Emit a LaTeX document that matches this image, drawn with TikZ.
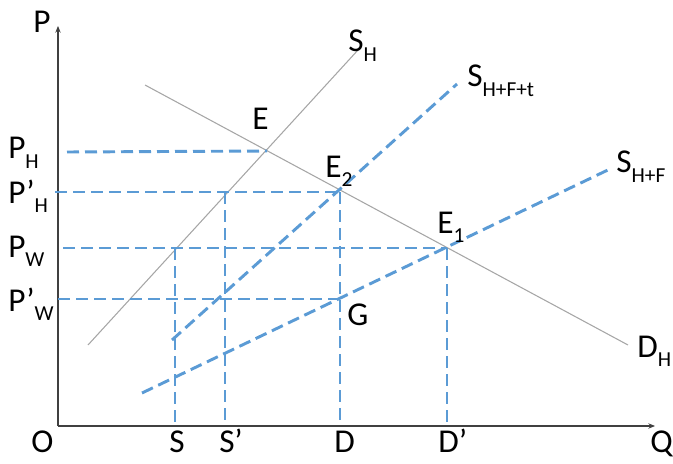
\documentclass[tikz,border=0pt]{standalone}
\usepackage{fontspec}
\setmainfont{Carlito}
\usetikzlibrary{arrows.meta}
\definecolor{dashblue}{HTML}{5B9BD5}
\definecolor{linegray}{HTML}{A6A6A6}
\definecolor{axisgray}{HTML}{404040}
\newcommand{\lowsub}[1]{\raisebox{-7pt}{\fontsize{16}{16}\selectfont #1}}

\begin{document}
\begin{tikzpicture}[x=0.75pt, y=-0.75pt,
  axis/.style={draw=axisgray, line width=0.8pt, -{Stealth[length=5pt, width=4pt]}},
  curve/.style={draw=linegray, line width=0.8pt},
  guide/.style={draw=dashblue, line width=2.2pt, dash pattern=on 9pt off 4.5pt},
  lbl/.style={inner sep=0pt, anchor=base west, font=\fontsize{25}{30}\selectfont}]
  \useasboundingbox (0,0) rectangle (673,463);

  % points
  \coordinate (O) at (58,426);
  \coordinate (ytip) at (58,26);
  \coordinate (xtip) at (655,426);
  \coordinate (E) at (267,151);
  \coordinate (E2) at (340,192);
  \coordinate (E1) at (447,248);
  \coordinate (G) at (340,299);
  \coordinate (Sw) at (175,248);
  \coordinate (Sp) at (225,192);
  \coordinate (pH) at (67,152);
  \coordinate (pHp) at (55,192);
  \coordinate (pW) at (63,248);
  \coordinate (pWp) at (58,299);

  % axes
  \draw[axis] (O) -- (ytip);
  \draw[axis] (O) -- (xtip);

  % home supply and demand
  \coordinate (sH0) at (88,345);
  \coordinate (sH1) at (358,50);
  \coordinate (dH0) at (145,85);
  \coordinate (dH1) at (628,345);
  \draw[curve] (sH0) -- (sH1);
  \draw[curve] (dH0) -- (dH1);

  % shifted supply
  \coordinate (sT0) at (172,340);
  \coordinate (sT1) at (457,84);
  \coordinate (sF0) at (142,393);
  \coordinate (sF1) at (612,168);
  \draw[guide] (sT0) -- (sT1);
  \draw[guide] (sF0) -- (sF1);

  % price levels
  \draw[guide] (pH) -- (E);
  \draw[guide] (pHp) -- (E2);
  \draw[guide] (pW) -- (E1);
  \draw[guide] (pWp) -- (G);

  % quantities
  \draw[guide] (Sw) -- (Sw |- O);
  \draw[guide] (Sp) -- (Sp |- O);
  \draw[guide] (E2) -- (E2 |- O);
  \draw[guide] (E1) -- (E1 |- O);

  % labels
  \node[lbl] (lP) at (33,33) {P};
  \node[lbl] (lPH) at (8,159) {P\lowsub{H}};
  \node[lbl] (lPHp) at (8,203) {P’\lowsub{H}};
  \node[lbl] (lPW) at (8,257) {P\lowsub{W}};
  \node[lbl] (lPWp) at (8,311) {P’\lowsub{W}};
  \node[lbl] (lO) at (31,452) {O};
  \node[lbl] (lS) at (169,452) {S};
  \node[lbl] (lSp) at (219,452) {S’};
  \node[lbl] (lD) at (334,452) {D};
  \node[lbl] (lDp) at (438,452) {D’};
  \node[lbl] (lQ) at (650,452) {Q};
  \node[lbl] (lE) at (252,130) {E};
  \node[lbl] (lE2) at (325,177) {E\lowsub{2}};
  \node[lbl] (lE1) at (437,233) {E\lowsub{1}};
  \node[lbl] (lG) at (347,325) {G};
  \node[lbl] (lSH) at (348,52) {S\lowsub{H}};
  \node[lbl] (lSHFt) at (467,87) {S\lowsub{H+F+t}};
  \node[lbl] (lSHF) at (616,173) {S\lowsub{H+F}};
  \node[lbl] (lDH) at (637,357) {D\lowsub{H}};
\end{tikzpicture}
\end{document}
